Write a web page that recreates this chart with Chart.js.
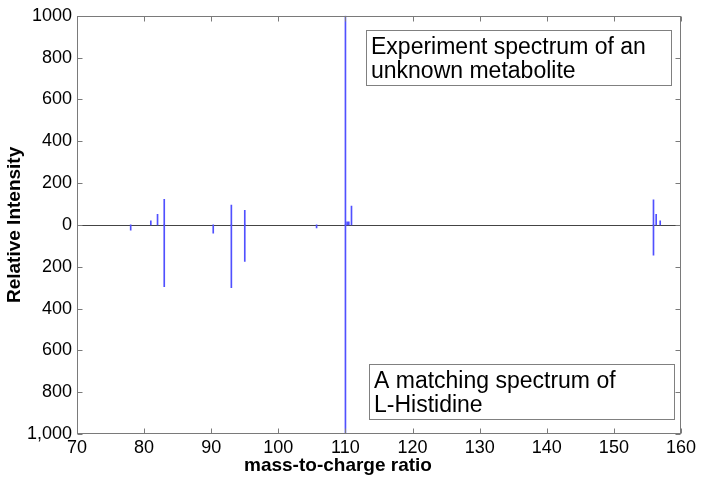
<!DOCTYPE html>
<html>
<head>
<meta charset="utf-8">
<script src="https://cdn.jsdelivr.net/npm/chart.js@4"></script>
<style>
    html, body { margin: 0; padding: 0; background: #fff; }
    #wrap { width: 701px; height: 483px; }
</style>
</head>
<body>
<div id="wrap"><canvas id="SpectrumChart" width="701" height="483"></canvas></div>
<script>
// experiment spectrum (drawn upward)
const experimentMz = [81, 82, 83, 93, 95, 110, 110.25, 110.5, 110.9, 155.9, 156.3, 156.9];
const experimentIntensity = [20, 50, 122, 95, 70, 1000, 15, 15, 90, 120, 50, 20];
// reference spectrum of L-Histidine (drawn downward)
const referenceMz = [78, 83, 90.3, 93, 95, 105.7, 110, 155.9];
const referenceIntensity = [25, 296, 40, 300, 175, 15, 1000, 145];
const xTicks = [70, 80, 90, 100, 110, 120, 130, 140, 150, 160];
const yTicks = [-1000, -800, -600, -400, -200, 0, 200, 400, 600, 800, 1000];
const xTitle = "mass-to-charge ratio";
const topNote = ["Experiment spectrum of an", "unknown metabolite"];
const bottomNote = ["A matching spectrum of", "L-Histidine"];

const FONT = "'Liberation Sans', Arial, Helvetica, sans-serif";
const stickColor = "rgb(80, 80, 255)";

// frame, inward ticks, zero line, x title and the two text boxes
const frameAndNotes = {
    id: "frameAndNotes",
    beforeDatasetsDraw(chart) {
        const ctx = chart.ctx;
        const area = chart.chartArea;
        const y0 = Math.round(chart.scales.y.getPixelForValue(0)) + 0.5;
        ctx.save();
        ctx.strokeStyle = "#444";
        ctx.lineWidth = 1;
        ctx.beginPath();
        ctx.moveTo(area.left, y0);
        ctx.lineTo(area.right, y0);
        ctx.stroke();
        ctx.restore();
    },
    afterDatasetsDraw(chart) {
        const ctx = chart.ctx;
        const area = chart.chartArea;
        const xs = chart.scales.x;
        const ys = chart.scales.y;
        const L = Math.round(area.left) + 0.5;
        const R = Math.round(area.right) - 0.5;
        const T = Math.round(area.top) + 0.5;
        const B = Math.round(area.bottom) - 0.5;
        const tick = 5;
        ctx.save();
        ctx.strokeStyle = "#7a7a7a";
        ctx.lineWidth = 1;
        ctx.strokeRect(L, T, R - L, B - T);
        ctx.beginPath();
        xTicks.forEach(function (v) {
            const px = Math.round(xs.getPixelForValue(v)) + 0.5;
            ctx.moveTo(px, B); ctx.lineTo(px, B - tick);
            ctx.moveTo(px, T); ctx.lineTo(px, T + tick);
        });
        yTicks.forEach(function (v) {
            const py = Math.round(ys.getPixelForValue(v)) + 0.5;
            ctx.moveTo(L, py); ctx.lineTo(L + tick, py);
            ctx.moveTo(R, py); ctx.lineTo(R - tick, py);
        });
        ctx.stroke();

        // x axis title sits left of centre in the original
        ctx.fillStyle = "#000";
        ctx.font = "bold 19px " + FONT;
        ctx.textAlign = "center";
        ctx.textBaseline = "middle";
        ctx.fillText(xTitle, 338, 466);

        function drawNote(lines, box) {
            ctx.fillStyle = "#fff";
            ctx.fillRect(box.x, box.y, box.w, box.h);
            ctx.strokeStyle = "#808080";
            ctx.strokeRect(box.x + 0.5, box.y + 0.5, box.w, box.h);
            ctx.fillStyle = "#000";
            ctx.font = "23px " + FONT;
            ctx.textBaseline = "middle";
            ctx.textAlign = "left";
            lines.forEach(function (t, i) {
                ctx.fillText(t, box.x + 5, box.y + 18 + i * 24);
            });
        }
        drawNote(topNote, { x: 366, y: 30, w: 305, h: 55 });
        drawNote(bottomNote, { x: 369, y: 364, w: 305, h: 55 });
        ctx.restore();
    }
};

const spectrumChart = new Chart(document.getElementById("SpectrumChart"), {
    type: "bar",
    data: {
        datasets: [
            {
                label: "Experiment",
                data: experimentMz.map(function (m, i) { return { x: m, y: experimentIntensity[i] }; }),
                backgroundColor: stickColor,
                barThickness: 1,
                grouped: false,
            },
            {
                label: "L-Histidine",
                data: referenceMz.map(function (m, i) { return { x: m, y: -referenceIntensity[i] }; }),
                backgroundColor: stickColor,
                barThickness: 1,
                grouped: false,
            },
        ],
    },
    options: {
        responsive: false,
        animation: false,
        layout: { padding: { top: 13, right: 20, bottom: 0, left: 0 } },
        plugins: {
            legend: { display: false },
            tooltip: { enabled: false },
        },
        scales: {
            x: {
                type: "linear",
                min: 70,
                max: 160,
                offset: false,
                grid: { display: false, drawTicks: false },
                border: { display: false },
                afterBuildTicks: function (scale) {
                    scale.ticks = xTicks.map(function (v) { return { value: v }; });
                },
                ticks: {
                    color: "#000",
                    font: { family: FONT, size: 18 },
                    padding: 3,
                    maxRotation: 0,
                    callback: function (v) { return String(v); },
                },
                afterFit: function (scale) { scale.height = 49; },
            },
            y: {
                min: -1000,
                max: 1000,
                grid: { display: false, drawTicks: false },
                border: { display: false },
                afterBuildTicks: function (scale) {
                    scale.ticks = yTicks.map(function (v) { return { value: v }; });
                },
                ticks: {
                    color: "#000",
                    font: { family: FONT, size: 18 },
                    padding: 5,
                    callback: function (v) { return v === -1000 ? "1,000" : String(Math.abs(v)); },
                },
                title: {
                    display: true,
                    text: "Relative Intensity",
                    color: "#000",
                    font: { family: FONT, size: 19, weight: "bold" },
                    padding: { top: 3, bottom: 0 },
                },
                afterFit: function (scale) { scale.width = 77; },
            },
        },
    },
    plugins: [frameAndNotes],
});
</script>
</body>
</html>
